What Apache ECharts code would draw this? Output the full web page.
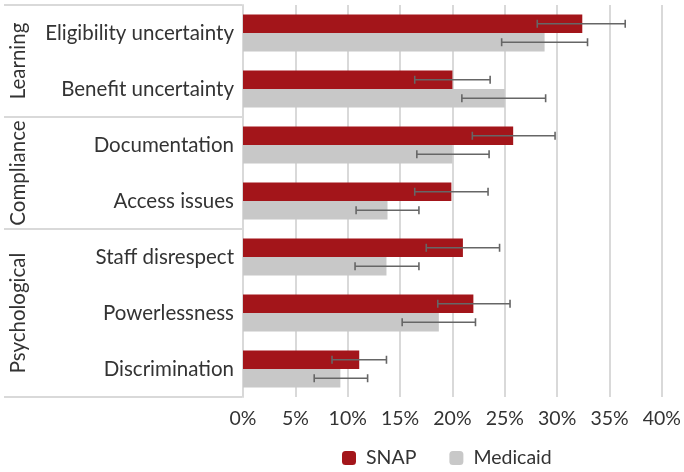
<!DOCTYPE html>
<html>
<head>
<meta charset="utf-8">
<script src="https://cdn.jsdelivr.net/npm/echarts@6/dist/echarts.min.js"></script>
<style>
  html, body { margin: 0; padding: 0; background: #fff; }
  #main { width: 684px; height: 472px; }
</style>
</head>
<body>
<div id="main"></div>
<script>
// categories top -> bottom
const categories = ['Eligibility uncertainty', 'Benefit uncertainty', 'Documentation', 'Access issues',
  'Staff disrespect', 'Powerlessness', 'Discrimination'];
const groupNames = ['Learning', 'Compliance', 'Psychological'];
const groupSizes = [2, 2, 3];

const snap = [32.4, 20.0, 25.8, 19.9, 21.0, 22.0, 11.1];
const snapLow = [28.1, 16.4, 21.9, 16.4, 17.5, 18.6, 8.5];
const snapHigh = [36.5, 23.6, 29.8, 23.4, 24.5, 25.5, 13.7];

const medicaid = [28.8, 25.0, 20.0, 13.8, 13.7, 18.7, 9.3];
const medLow = [24.7, 20.9, 16.6, 10.8, 10.7, 15.2, 6.8];
const medHigh = [32.9, 28.9, 23.5, 16.8, 16.8, 22.2, 11.9];

const FONT = 'Lato';
const TXT = '#333';
const LINE = '#d9d9d9';
const CAT_GAP = 0.34;

const chart = echarts.init(document.getElementById('main'));

// error bar drawer, side = -1 upper bar, +1 lower bar
function errRender(side) {
  return function (params, api) {
    const cat = api.value(0);
    const p1 = api.coord([api.value(1), cat]);
    const p2 = api.coord([api.value(2), cat]);
    const band = api.size([0, 1])[1];
    const barH = band * (1 - CAT_GAP) / 2;
    const y = p1[1] + side * barH / 2;
    const cap = 4;
    const style = { stroke: '#666', lineWidth: 1.6 };
    return {
      type: 'group',
      children: [
        { type: 'line', shape: { x1: p1[0], y1: y, x2: p2[0], y2: y }, style: style },
        { type: 'line', shape: { x1: p1[0], y1: y - cap, x2: p1[0], y2: y + cap }, style: style },
        { type: 'line', shape: { x1: p2[0], y1: y - cap, x2: p2[0], y2: y + cap }, style: style }
      ]
    };
  };
}

const snapErr = categories.map((c, i) => [i, snapLow[i], snapHigh[i]]);
const medErr = categories.map((c, i) => [i, medLow[i], medHigh[i]]);

chart.setOption({
  animation: false,
  textStyle: { fontFamily: FONT },
  grid: { left: 243, right: 22, top: 5, bottom: 75 },
  legend: {
    left: 337,
    top: 443,
    itemWidth: 14,
    itemHeight: 14,
    itemGap: 33,
    textStyle: { fontSize: 19.5, color: TXT, fontFamily: FONT, padding: [0, 0, 0, 5] },
    data: ['SNAP', 'Medicaid']
  },
  xAxis: {
    type: 'value',
    min: 0,
    max: 40,
    interval: 5,
    axisLine: { show: false },
    axisTick: { show: false },
    axisLabel: { formatter: '{value}%', fontSize: 19.5, color: TXT, margin: 12 },
    splitLine: { lineStyle: { color: LINE, width: 2 } }
  },
  yAxis: {
    type: 'category',
    inverse: true,
    data: categories,
    axisLine: { lineStyle: { color: LINE, width: 2 } },
    axisTick: { show: false },
    axisLabel: { fontSize: 20.5, color: TXT, margin: 9 }
  },
  series: [
    {
      name: 'SNAP',
      type: 'bar',
      data: snap,
      barGap: 0,
      barCategoryGap: '34%',
      itemStyle: { color: '#a3151a' }
    },
    {
      name: 'Medicaid',
      type: 'bar',
      data: medicaid,
      itemStyle: { color: '#c8c8c8' }
    },
    {
      type: 'custom',
      renderItem: errRender(-1),
      data: snapErr,
      encode: { x: [1, 2], y: 0 },
      z: 5
    },
    {
      type: 'custom',
      renderItem: errRender(1),
      data: medErr,
      encode: { x: [1, 2], y: 0 },
      z: 5
    }
  ]
});

// group brackets on the left, placed from the category axis
const graphics = [];
const first = chart.convertToPixel({ yAxisIndex: 0 }, 0);
const second = chart.convertToPixel({ yAxisIndex: 0 }, 1);
const band = second - first;
const axisX = chart.convertToPixel({ xAxisIndex: 0 }, 0) - 1;
let start = 0;
graphics.push({
  type: 'line', shape: { x1: 4, y1: first - band / 2, x2: axisX, y2: first - band / 2 },
  style: { stroke: LINE, lineWidth: 2 }, silent: true
});
groupNames.forEach((g, k) => {
  const yTop = first + (start - 0.5) * band;
  const yBot = first + (start + groupSizes[k] - 0.5) * band;
  graphics.push({
    type: 'line', shape: { x1: 4, y1: yBot, x2: axisX, y2: yBot },
    style: { stroke: LINE, lineWidth: 2 }, silent: true
  });
  graphics.push({
    type: 'text',
    x: 18,
    y: (yTop + yBot) / 2,
    rotation: Math.PI / 2,
    style: {
      text: g, fill: TXT, fontSize: 20.5, fontFamily: FONT,
      align: 'center', verticalAlign: 'middle'
    },
    silent: true
  });
  start += groupSizes[k];
});
chart.setOption({ graphic: graphics });
</script>
</body>
</html>
